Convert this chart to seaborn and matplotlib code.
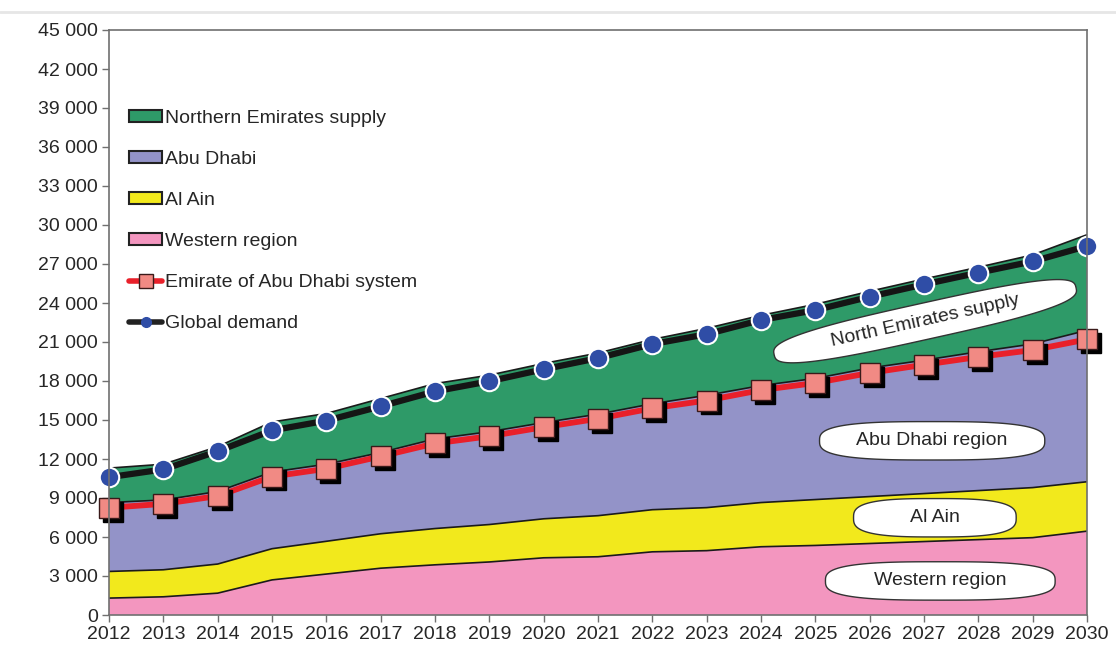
"""Abu Dhabi supply/demand outlook 2012-2030 (stacked areas + system lines)."""

import matplotlib

matplotlib.use("Agg")

import matplotlib.pyplot as plt
import numpy as np
import seaborn as sns
from matplotlib.lines import Line2D
from matplotlib.patches import Patch
from matplotlib.path import Path
from matplotlib.transforms import offset_copy

years = list(range(2012, 2031))

# cumulative layer tops
western_top = [1300, 1400, 1680, 2700, 3150, 3600, 3860, 4080, 4400, 4480,
               4860, 4950, 5250, 5350, 5500, 5650, 5800, 5950, 6450]
al_ain_top = [3350, 3480, 3920, 5100, 5670, 6250, 6650, 6960, 7400, 7640,
              8100, 8260, 8650, 8880, 9110, 9340, 9570, 9800, 10250]
abu_dhabi_top = [8650, 8850, 9500, 11000, 11600, 12500, 13550, 14100, 14800, 15450,
                 16250, 16900, 17650, 18200, 19000, 19600, 20250, 20850, 21900]
northern_top = [11300, 11600, 12950, 14850, 15500, 16650, 17800, 18450, 19350, 20150,
                21200, 22050, 23050, 23900, 24900, 25850, 26750, 27700, 29250]

emirate_system = [8250, 8550, 9150, 10650, 11250, 12200, 13200, 13750, 14450, 15100,
                  15900, 16500, 17300, 17850, 18620, 19250, 19850, 20380, 21200]
global_demand = [10600, 11200, 12600, 14200, 14950, 16050, 17200, 17980, 18900, 19760,
                 20840, 21600, 22690, 23450, 24480, 25430, 26330, 27200, 28380]

layer_names = ["Western region", "Al Ain", "Abu Dhabi", "Northern Emirates supply"]
layer_colors = ["#f396bf", "#f2e91c", "#9393c8", "#2e9a68"]

y_ticks = list(range(0, 45001, 3000))
y_labels = [f"{v:,}".replace(",", " ") for v in y_ticks]


def oval(padx, pady, power=3.0):
    """Superellipse box style with separate horizontal / vertical padding."""
    def style(x0, y0, width, height, mutation_size):
        a = width / 2 + padx * mutation_size
        b = height / 2 + pady * mutation_size
        cx, cy = x0 + width / 2, y0 + height / 2
        t = np.linspace(0, 2 * np.pi, 121)
        c, s = np.cos(t), np.sin(t)
        xs = cx + a * np.sign(c) * np.abs(c) ** (2 / power)
        ys = cy + b * np.sign(s) * np.abs(s) ** (2 / power)
        return Path(np.column_stack([xs, ys]), closed=True)
    return style


sns.set_theme(style="white")
plt.rcParams["font.family"] = ["Liberation Sans", "DejaVu Sans"]

fig, ax = plt.subplots(figsize=(11.16, 6.61), dpi=100)
fig.subplots_adjust(left=109 / 1116, right=1087 / 1116, top=1 - 30 / 661, bottom=1 - 615 / 661)

bottoms = [[0] * len(years), western_top, al_ain_top, abu_dhabi_top]
tops = [western_top, al_ain_top, abu_dhabi_top, northern_top]
for low, high, color in zip(bottoms, tops, layer_colors):
    ax.fill_between(years, low, high, facecolor=color, edgecolor="none", zorder=1)
    ax.plot(years, high, color="#1a1a1a", lw=1.2, zorder=2)

# global demand: black line with blue dots
sns.lineplot(x=years, y=global_demand, ax=ax, color="#151515", lw=4.5, zorder=3)
ax.plot(years, global_demand, ls="none", marker="o", ms=14, mfc="#2f4da6",
        mec="white", mew=1.5, zorder=4, clip_on=False)

# Emirate of Abu Dhabi system: red line with shadowed squares
sns.lineplot(x=years, y=emirate_system, ax=ax, color="#e9202a", lw=4.2, zorder=3)
shadow = offset_copy(ax.transData, fig=fig, x=2.8, y=-2.8, units="points")
ax.plot(years, emirate_system, ls="none", marker="s", ms=15, mfc="black", mec="black",
        transform=shadow, zorder=4, clip_on=False)
ax.plot(years, emirate_system, ls="none", marker="s", ms=15, mfc="#f18a84",
        mec="#3a1a1a", mew=1.0, zorder=5, clip_on=False)

box = dict(fc="white", ec="#333333", lw=1.0)
ax.text(2027.02, 22600, "North Emirates supply", rotation=12.5, ha="center", va="center",
        fontsize=14, bbox=dict(box, boxstyle=oval(3.0, 0.5)), zorder=6)
ax.text(2027.15, 13400, "Abu Dhabi region", ha="center", va="center", fontsize=14,
        bbox=dict(box, boxstyle=oval(1.9, 0.55)), zorder=6)
ax.text(2027.2, 7480, "Al Ain", ha="center", va="center", fontsize=14,
        bbox=dict(box, boxstyle=oval(2.9, 0.55)), zorder=6)
ax.text(2027.3, 2620, "Western region", ha="center", va="center", fontsize=14,
        bbox=dict(box, boxstyle=oval(2.5, 0.55)), zorder=6)

ax.set_xlim(2012, 2030)
ax.set_ylim(0, 45000)
ax.set_xticks(years)
ax.set_xticklabels([str(y) for y in years], fontsize=14)
ax.set_yticks(y_ticks)
ax.set_yticklabels(y_labels, fontsize=14)
ax.tick_params(axis="both", direction="out", length=5, width=1, color="#707070",
               left=True, bottom=True, pad=3)
for spine in ax.spines.values():
    spine.set_color("#707070")
    spine.set_linewidth(1.2)
    spine.set_zorder(7)

handles = [Patch(facecolor=c, edgecolor="#222222", lw=1.5)
           for c in reversed(layer_colors)]
handles.append(Line2D([], [], color="#e9202a", lw=4, marker="s", ms=10,
                      mfc="#f18a84", mec="#3a1a1a"))
handles.append(Line2D([], [], color="#222222", lw=4, marker="o", ms=7,
                      mfc="#2f4da6", mec="#2f4da6"))
labels = list(reversed(layer_names)) + ["Emirate of Abu Dhabi system", "Global demand"]
ax.legend(handles, labels, loc="upper left", bbox_to_anchor=(0.013, 0.877), frameon=False,
          fontsize=14, labelspacing=1.24, handlelength=1.65, handleheight=0.6,
          handletextpad=0.2, borderaxespad=0)

fig.add_artist(Line2D([0, 1], [1 - 12 / 661, 1 - 12 / 661], transform=fig.transFigure,
                      color="#e6e6e6", lw=2))

fig.savefig("out.png", dpi=100)
